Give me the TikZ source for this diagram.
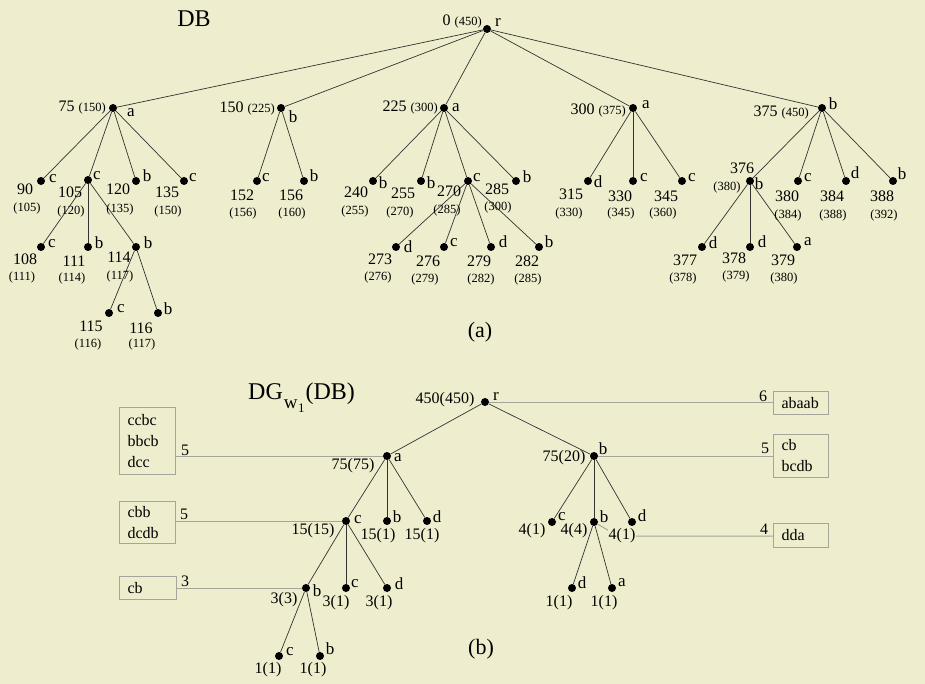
\documentclass[tikz,border=0pt]{standalone}
\usepackage{fontspec}
\setmainfont{Liberation Serif}
\definecolor{paper}{RGB}{238,237,205}
\definecolor{boxline}{RGB}{165,165,155}
\newcommand\ctf{\fontsize{12.5}{14}\selectfont}
\tikzset{
  dot/.style={circle, fill=black, inner sep=0pt, minimum size=8pt},
  edge/.style={draw=black!80, line width=0.7pt},
  gl/.style={draw=boxline, line width=1pt},
  lt/.style={inner sep=0pt, font=\fontsize{17}{19}\selectfont},
  nm/.style={inner sep=0pt, font=\fontsize{16}{18}\selectfont},
  ct/.style={inner sep=0pt, font=\ctf},
  sbox/.style={draw=boxline, line width=1pt, anchor=north west, align=left,
    inner xsep=8pt, inner ysep=0pt, font=\fontsize{16}{21}\selectfont},
  ttl/.style={inner sep=0pt, font=\fontsize{24}{26}\selectfont},
}
\begin{document}
\begin{tikzpicture}[x=1pt,y=-1pt]
\fill[paper] (0,0) rectangle (925,684);
\useasboundingbox (0,0) rectangle (925,684);

% ---------------- (a) the tree DB ----------------
\node[ttl] (dbt) at (194,19) {DB};
\node[inner sep=0pt, font=\fontsize{22}{24}\selectfont] (capa) at (480,332) {(a)};

% dots
\node[dot] (r) at (487,29) {};
\node[dot] (n75) at (113,108) {};
\node[dot] (n150) at (281,108) {};
\node[dot] (n225) at (444,108) {};
\node[dot] (n300) at (633,108) {};
\node[dot] (n375) at (822,108) {};
\node[dot] (n90) at (41,181) {};
\node[dot] (n105) at (88,180) {};
\node[dot] (n120) at (136,181) {};
\node[dot] (n135) at (184,181) {};
\node[dot] (n152) at (257,181) {};
\node[dot] (n156) at (304,181) {};
\node[dot] (n240) at (373,181) {};
\node[dot] (n255) at (421,181) {};
\node[dot] (n270) at (468,181) {};
\node[dot] (n285) at (516,181) {};
\node[dot] (n315) at (588,181) {};
\node[dot] (n330) at (633,181) {};
\node[dot] (n345) at (682,181) {};
\node[dot] (n376) at (750,181) {};
\node[dot] (n380) at (798,181) {};
\node[dot] (n384) at (846,181) {};
\node[dot] (n388) at (893,181) {};
\node[dot] (n108) at (41,247) {};
\node[dot] (n111) at (88,247) {};
\node[dot] (n114) at (136,247) {};
\node[dot] (n115) at (109,313) {};
\node[dot] (n116) at (158,313) {};
\node[dot] (n273) at (396,247) {};
\node[dot] (n276) at (444,247) {};
\node[dot] (n279) at (491,247) {};
\node[dot] (n282) at (539,247) {};
\node[dot] (n377) at (702,247) {};
\node[dot] (n378) at (750,247) {};
\node[dot] (n379) at (797,247) {};

% edges
\foreach \c in {n75,n150,n225,n300,n375} \draw[edge] (r) -- (\c);
\foreach \c in {n90,n105,n120,n135} \draw[edge] (n75) -- (\c);
\foreach \c in {n108,n111,n114} \draw[edge] (n105) -- (\c);
\foreach \c in {n115,n116} \draw[edge] (n114) -- (\c);
\foreach \c in {n152,n156} \draw[edge] (n150) -- (\c);
\foreach \c in {n240,n255,n270,n285} \draw[edge] (n225) -- (\c);
\foreach \c in {n273,n276,n279,n282} \draw[edge] (n270) -- (\c);
\foreach \c in {n315,n330,n345} \draw[edge] (n300) -- (\c);
\foreach \c in {n376,n380,n384,n388} \draw[edge] (n375) -- (\c);
\foreach \c in {n377,n378,n379} \draw[edge] (n376) -- (\c);

% symbols
\node[lt] (lr) at (498,22) {r};
\node[lt] (l75) at (131,113) {a};
\node[lt] (l150) at (293,117) {b};
\node[lt] (l225) at (456,108) {a};
\node[lt] (l300) at (646,105) {a};
\node[lt] (l375) at (833,104) {b};
\node[lt] (l90) at (53,179) {c};
\node[lt] (l105) at (97,176) {c};
\node[lt] (l120) at (147,176) {b};
\node[lt] (l135) at (193,178) {c};
\node[lt] (l152) at (266,178) {c};
\node[lt] (l156) at (314,176) {b};
\node[lt] (l240) at (383,183) {b};
\node[lt] (l255) at (431,183) {b};
\node[lt] (l270) at (477,178) {c};
\node[lt] (l285) at (527,177) {b};
\node[lt] (l315) at (598,182) {d};
\node[lt] (l330) at (644,178) {c};
\node[lt] (l345) at (692,178) {c};
\node[lt] (l376) at (759,184) {b};
\node[lt] (l380) at (808,178) {c};
\node[lt] (l384) at (855,173) {d};
\node[lt] (l388) at (902,174) {b};
\node[lt] (l108) at (52,244) {c};
\node[lt] (l111) at (99,243) {b};
\node[lt] (l114) at (148,243) {b};
\node[lt] (l115) at (121,309) {c};
\node[lt] (l116) at (168,309) {b};
\node[lt] (l273) at (408,247) {d};
\node[lt] (l276) at (454,243) {c};
\node[lt] (l279) at (503,242) {d};
\node[lt] (l282) at (549,242) {b};
\node[lt] (l377) at (713,243) {d};
\node[lt] (l378) at (762,242) {d};
\node[lt] (l379) at (808,242) {a};

% positions with end positions in brackets
\node[nm, anchor=base east] (t0) at (482,26) {0 {\ctf(450)}};
\node[nm, anchor=base east] (t75) at (106,112) {75 {\ctf(150)}};
\node[nm, anchor=base east] (t150) at (275,113) {150 {\ctf(225)}};
\node[nm, anchor=base east] (t225) at (438,112) {225 {\ctf(300)}};
\node[nm, anchor=base east] (t300) at (626,115) {300 {\ctf(375)}};
\node[nm, anchor=base east] (t375) at (809,117) {375 {\ctf(450)}};

\node[nm] (t90) at (25,189) {90};     \node[ct] (k90) at (27,208) {(105)};
\node[nm] (t105) at (70,192) {105};   \node[ct] (k105) at (71,211) {(120)};
\node[nm] (t120) at (118,189) {120};  \node[ct] (k120) at (120,209) {(135)};
\node[nm] (t135) at (167,192) {135};  \node[ct] (k135) at (168,211) {(150)};
\node[nm] (t152) at (242,195) {152};  \node[ct] (k152) at (243,213) {(156)};
\node[nm] (t156) at (291,195) {156};  \node[ct] (k156) at (292,213) {(160)};
\node[nm] (t108) at (25,259) {108};   \node[ct] (k108) at (22,277) {(111)};
\node[nm] (t111) at (74,261) {111};   \node[ct] (k111) at (72,278) {(114)};
\node[nm] (t114) at (119,257) {114};  \node[ct] (k114) at (120,276) {(117)};
\node[nm] (t115) at (91,326) {115};   \node[ct] (k115) at (88,344) {(116)};
\node[nm] (t116) at (141,328) {116};  \node[ct] (k116) at (142,344) {(117)};
\node[nm] (t240) at (356,192) {240};  \node[ct] (k240) at (355,211) {(255)};
\node[nm] (t255) at (403,193) {255};  \node[ct] (k255) at (400,212) {(270)};
\node[nm] (t270) at (449,191) {270};  \node[ct] (k270) at (447,210) {(285)};
\node[nm] (t285) at (497,189) {285};  \node[ct] (k285) at (498,207) {(300)};
\node[nm] (t273) at (380,259) {273};  \node[ct] (k273) at (378,277) {(276)};
\node[nm] (t276) at (428,261) {276};  \node[ct] (k276) at (425,279) {(279)};
\node[nm] (t279) at (479,261) {279};  \node[ct] (k279) at (481,279) {(282)};
\node[nm] (t282) at (527,261) {282};  \node[ct] (k282) at (528,279) {(285)};
\node[nm] (t315) at (571,194) {315};  \node[ct] (k315) at (569,213) {(330)};
\node[nm] (t330) at (620,196) {330};  \node[ct] (k330) at (621,213) {(345)};
\node[nm] (t345) at (666,196) {345};  \node[ct] (k345) at (663,213) {(360)};
\node[nm] (t376) at (742,168) {376};  \node[ct] (k376) at (727,187) {(380)};
\node[nm] (t380) at (787,196) {380};  \node[ct] (k380) at (788,215) {(384)};
\node[nm] (t384) at (832,196) {384};  \node[ct] (k384) at (833,215) {(388)};
\node[nm] (t388) at (882,196) {388};  \node[ct] (k388) at (884,215) {(392)};
\node[nm] (t377) at (685,260) {377};  \node[ct] (k377) at (683,278) {(378)};
\node[nm] (t378) at (734,258) {378};  \node[ct] (k378) at (736,276) {(379)};
\node[nm] (t379) at (783,260) {379};  \node[ct] (k379) at (784,278) {(380)};

% ---------------- (b) the graph DG_w1(DB) ----------------
\node[ttl, anchor=base west] (dgt) at (248,399)
  {DG\hspace{1pt}\raisebox{-9pt}{\fontsize{19}{20}\selectfont w\hspace{0.5pt}\raisebox{-4pt}{\fontsize{13}{14}\selectfont 1}}\hspace{1pt}(DB)};
\node[inner sep=0pt, font=\fontsize{22}{24}\selectfont] (capb) at (481,649) {(b)};

% boxes of side strings
\node[sbox, text width=40pt, minimum height=67pt] (bx1) at (119,407) {ccbc\\bbcb\\dcc};
\node[sbox, text width=40pt, minimum height=42pt] (bx2) at (119,501) {cbb\\dcdb};
\node[sbox, text width=41pt, minimum height=23pt] (bx3) at (119,576) {cb};
\node[sbox, text width=39pt, minimum height=23pt] (bx4) at (773,391) {abaab};
\node[sbox, text width=39pt, minimum height=43pt] (bx5) at (773,434) {cb\\bcdb};
\node[sbox, text width=39pt, minimum height=24pt] (bx6) at (773,523) {dda};

% dots
\node[dot] (R) at (485,402) {};
\node[dot] (A) at (387,456) {};
\node[dot] (B) at (594,456) {};
\node[dot] (C) at (346,521) {};
\node[dot] (Ab) at (387,521) {};
\node[dot] (Ad) at (427,521) {};
\node[dot] (Cb) at (306,588) {};
\node[dot] (Cc) at (346,588) {};
\node[dot] (Cd) at (387,588) {};
\node[dot] (Dc) at (279,656) {};
\node[dot] (Db) at (320,656) {};
\node[dot] (Ec) at (552,522) {};
\node[dot] (Eb) at (594,522) {};
\node[dot] (Ed) at (632,522) {};
\node[dot] (Fd) at (572,588) {};
\node[dot] (Fa) at (612,588) {};
\coordinate (ddj) at (618,536);

% links to the boxes
\draw[gl] (A) -- (bx1.east |- A);
\draw[gl] (C) -- (bx2.east |- C);
\draw[gl] (Cb) -- (bx3.east |- Cb);
\draw[gl] (R) -- (bx4.west |- R);
\draw[gl] (B) -- (bx5.west |- B);
\draw[gl] (Eb) -- (ddj) -- (ddj -| bx6.west);

% tree edges
\foreach \c in {A,B} \draw[edge] (R) -- (\c);
\foreach \c in {C,Ab,Ad} \draw[edge] (A) -- (\c);
\foreach \c in {Cb,Cc,Cd} \draw[edge] (C) -- (\c);
\foreach \c in {Dc,Db} \draw[edge] (Cb) -- (\c);
\foreach \c in {Ec,Eb,Ed} \draw[edge] (B) -- (\c);
\foreach \c in {Fd,Fa} \draw[edge] (Eb) -- (\c);

% symbols
\node[lt] (lR) at (496,396) {r};
\node[lt] (lA) at (398,458) {a};
\node[lt] (lB) at (603,449) {b};
\node[lt] (lC) at (358,520) {c};
\node[lt] (lAb) at (397,517) {b};
\node[lt] (lAd) at (437,517) {d};
\node[lt] (lCb) at (317,591) {b};
\node[lt] (lCc) at (355,584) {c};
\node[lt] (lCd) at (399,584) {d};
\node[lt] (lDc) at (290,652) {c};
\node[lt] (lDb) at (330,649) {b};
\node[lt] (lEc) at (562,517) {c};
\node[lt] (lEb) at (604,517) {b};
\node[lt] (lEd) at (642,516) {d};
\node[lt] (lFd) at (582,583) {d};
\node[lt] (lFa) at (622,583) {a};

% weights
\node[nm] (wR) at (445,400) {450(450)};
\node[nm] (wA) at (353,466) {75(75)};
\node[nm] (wB) at (564,458) {75(20)};
\node[nm] (wC) at (313,531) {15(15)};
\node[nm] (wAb) at (378,536) {15(1)};
\node[nm] (wAd) at (422,536) {15(1)};
\node[nm] (wCb) at (284,600) {3(3)};
\node[nm] (wCc) at (336,603) {3(1)};
\node[nm] (wCd) at (379,603) {3(1)};
\node[nm] (wDc) at (268,670) {1(1)};
\node[nm] (wDb) at (313,670) {1(1)};
\node[nm] (wEc) at (532,531) {4(1)};
\node[nm] (wEb) at (574,531) {4(4)};
\node[nm, fill=paper, inner xsep=1pt] (wEd) at (622,536) {4(1)};
\node[nm] (wFd) at (559,603) {1(1)};
\node[nm] (wFa) at (604,603) {1(1)};

% lengths at the boxes
\node[nm] (s1) at (185,450) {5};
\node[nm] (s2) at (184,514) {5};
\node[nm] (s3) at (185,581) {3};
\node[nm] (s4) at (763,396) {6};
\node[nm] (s5) at (765,448) {5};
\node[nm] (s6) at (764,529) {4};
\end{tikzpicture}
\end{document}
